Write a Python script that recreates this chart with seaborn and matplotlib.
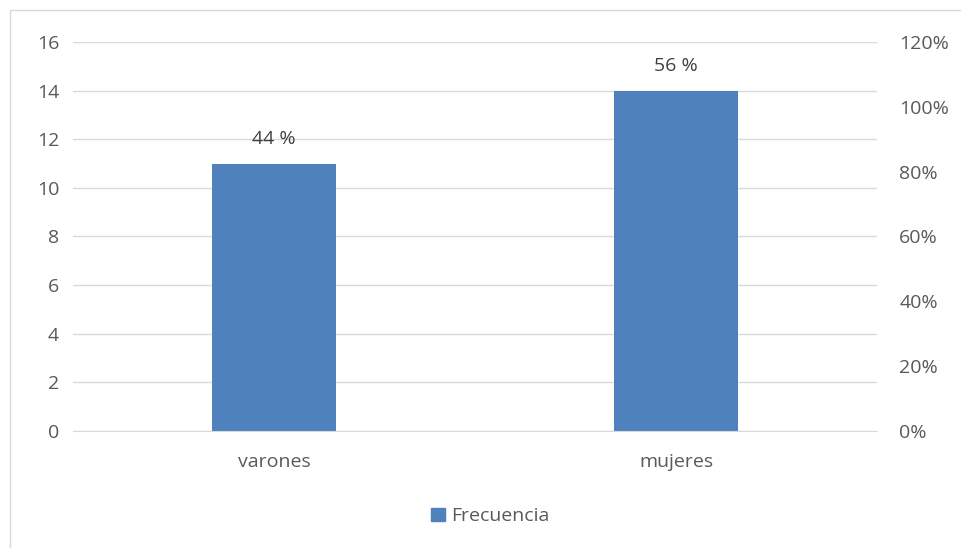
import matplotlib
matplotlib.use("Agg")
import matplotlib.pyplot as plt
import seaborn as sns
import pandas as pd
from matplotlib.patches import Rectangle, Patch
from matplotlib.ticker import FuncFormatter

# ================
# Data
# ================
categories = ["varones", "mujeres"]
frecuencia = [11, 14]
porcentajes = ["44 %", "56 %"]

bar_color = "#4F81BD"
text_color = "#595959"
grid_color = "#D9D9D9"

df = pd.DataFrame({"categoria": categories, "Frecuencia": frecuencia})

# ================
# Plot
# ================
sns.set_style("white")
plt.rcParams["font.family"] = ["Open Sans", "DejaVu Sans"]
fs = 14

fig = plt.figure(figsize=(9.61, 5.48), dpi=100)
ax = fig.add_axes([0.076, 0.2135, 0.8366, 0.71])

sns.barplot(data=df, x="categoria", y="Frecuencia", color=bar_color,
            width=0.31, saturation=1, linewidth=0, ax=ax)

ax.set_ylim(0, 16)
ax.set_yticks(range(0, 17, 2))
ax.set_xlim(-0.5, 1.5)
ax.set_xlabel("")
ax.set_ylabel("")
ax.grid(axis="y", color=grid_color, linewidth=1)
ax.set_axisbelow(True)
for s in ax.spines.values():
    s.set_visible(False)
ax.spines["bottom"].set_visible(True)
ax.spines["bottom"].set_color(grid_color)
ax.tick_params(axis="y", length=0, labelsize=fs, colors=text_color, pad=10)
ax.tick_params(axis="x", length=0, labelsize=fs, colors=text_color, pad=16)

for i, p in enumerate(ax.patches):
    ax.text(p.get_x() + p.get_width() / 2, p.get_height() + 1.0, porcentajes[i],
            ha="center", va="center", fontsize=fs, color="#404040")

ax2 = ax.twinx()
ax2.set_ylim(0, 1.2)
ax2.set_yticks([0, 0.2, 0.4, 0.6, 0.8, 1.0, 1.2])
ax2.yaxis.set_major_formatter(FuncFormatter(lambda v, _: f"{v * 100:.0f}%"))
ax2.tick_params(axis="y", length=0, labelsize=fs, colors=text_color, pad=16)
for s in ax2.spines.values():
    s.set_visible(False)

fig.legend(handles=[Patch(color=bar_color, label="Frecuencia")],
           loc="center", bbox_to_anchor=(0.51, 0.058), frameon=False,
           fontsize=fs, handlelength=0.7, handleheight=0.7, handletextpad=0.3,
           labelcolor=text_color)

fig.patches.append(Rectangle((0.0104, -0.01), 1.0, 0.992, transform=fig.transFigure,
                             fill=False, edgecolor=grid_color, linewidth=1))

fig.savefig("out.png", dpi=100)
